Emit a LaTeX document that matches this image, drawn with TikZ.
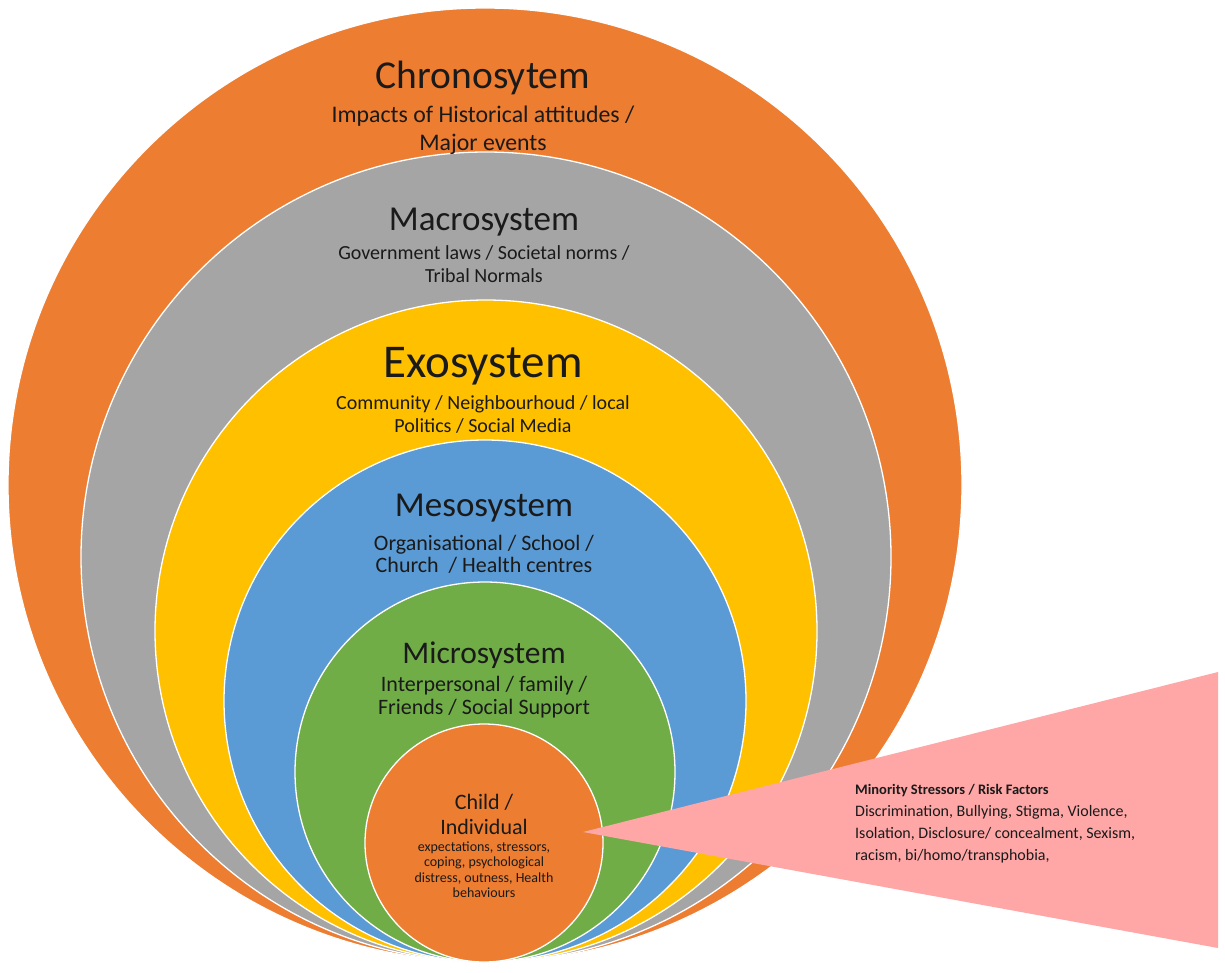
\documentclass[tikz,border=0pt]{standalone}
\usepackage{fontspec}
\setmainfont{Carlito}
\usetikzlibrary{positioning}
\definecolor{chronoorange}{HTML}{ED7D31}
\definecolor{macrogray}{HTML}{A5A5A5}
\definecolor{exoyellow}{HTML}{FFC000}
\definecolor{mesoblue}{HTML}{5B9BD5}
\definecolor{microgreen}{HTML}{70AD47}
\definecolor{stresspink}{HTML}{FFA7A7}
\definecolor{textdark}{HTML}{1A1A1A}
\tikzstyle{ring} = [circle, draw=white, line width=1.3pt, inner sep=0pt]
\tikzstyle{title} = [inner sep=0pt, text=textdark]
\tikzstyle{desc} = [inner sep=0pt, align=center, text=textdark]
\newcommand{\fsz}[2]{\fontsize{#1}{#2}\selectfont}

\begin{document}
\begin{tikzpicture}[x=1pt, y=-1pt, node distance=10pt]
    \useasboundingbox (0,0) rectangle (1225,972);

    % Cerchi del modello
    \node (chrono) [ring, fill=chronoorange, minimum size=954pt] at (485,485) {};
    \node (macro) [ring, fill=macrogray, minimum size=810pt] at (486,557) {};
    \node (exo) [ring, fill=exoyellow, minimum size=662pt] at (486,631) {};
    \node (meso) [ring, fill=mesoblue, minimum size=522pt] at (485,701) {};
    \node (micro) [ring, fill=microgreen, minimum size=380pt] at (485,772) {};
    \node (child) [ring, fill=chronoorange, minimum size=238pt] at (484,843) {};

    % Triangolo dei fattori di rischio
    \coordinate (tip) at (583,832);
    \coordinate (tipup) at (1218,672);
    \coordinate (tipdown) at (1218,948);
    \fill [stresspink] (tip) -- (tipup) -- (tipdown) -- cycle;

    % Titoli e descrizioni
    \node (chronotitle) [title, font=\fsz{39.5}{42}] at (483,78) {Chronosytem};
    \node (chronodesc) [desc, font=\fsz{23.8}{28}, below=11pt of chronotitle] {Impacts of Historical attitudes /\\Major events};

    \node (macrotitle) [title, font=\fsz{35}{38}] at (484,222) {Macrosystem};
    \node (macrodesc) [desc, font=\fsz{20}{23}, below=9pt of macrotitle] {Government laws / Societal norms /\\Tribal Normals};

    \node (exotitle) [title, font=\fsz{47}{50}] at (483,366) {Exosystem};
    \node (exodesc) [desc, font=\fsz{20}{23}, below=10pt of exotitle] {Community / Neighbourhoud / local\\Politics / Social Media};

    \node (mesotitle) [title, font=\fsz{35}{38}] at (484,508) {Mesosystem};
    \node (mesodesc) [desc, font=\fsz{22}{22}, below=12.5pt of mesotitle] {Organisational / School /\\Church~~/ Health centres};

    \node (microtitle) [title, font=\fsz{31.5}{34}] at (484,655) {Microsystem};
    \node (microdesc) [desc, font=\fsz{22}{23}, below=7.5pt of microtitle] {Interpersonal / family /\\Friends / Social Support};

    \node (childtitle) [desc, font=\fsz{22}{25}] at (484,814) {Child /\\Individual};
    \node (childdesc) [desc, font=\fsz{14}{15.5}, below=7pt of childtitle] {expectations, stressors,\\coping, psychological\\distress, outness, Health\\behaviours};

    \node (minority) [desc, align=left, anchor=north west, font=\fsz{16}{22}] at (855,784) {\fontsize{14.5}{22}\selectfont\textbf{Minority Stressors / Risk Factors}\\Discrimination, Bullying, Stigma, Violence,\\Isolation, Disclosure/ concealment, Sexism,\\racism, bi/homo/transphobia,};

\end{tikzpicture}
\end{document}
